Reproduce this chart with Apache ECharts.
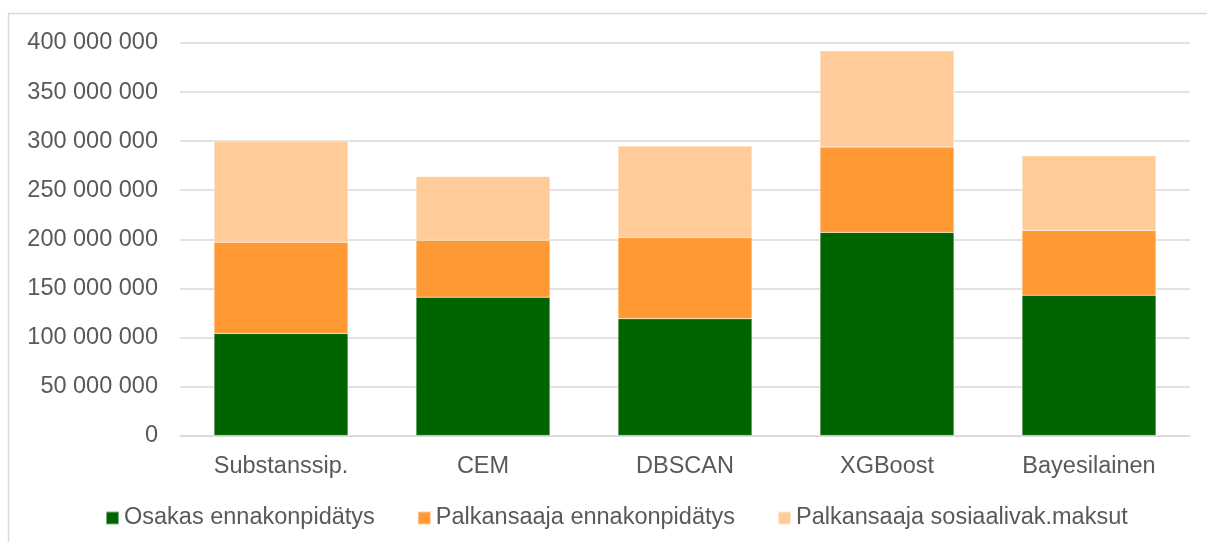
<!DOCTYPE html>
<html>
<head>
<meta charset="utf-8">
<script src="https://cdn.jsdelivr.net/npm/echarts@6/dist/echarts.min.js"></script>
<style>
  html, body { margin: 0; padding: 0; background: #fff; }
  #main { width: 1207px; height: 542px; }
</style>
</head>
<body>
<div id="main"></div>
<script>
// categories and stacked series (values in euros)
var categories = ['Substanssip.', 'CEM', 'DBSCAN', 'XGBoost', 'Bayesilainen'];
var osakasEnnakko = [104000000, 141000000, 119000000, 207000000, 143000000];
var palkansaajaEnnakko = [93000000, 58000000, 83000000, 87000000, 66000000];
var palkansaajaSosiaali = [103000000, 65000000, 93000000, 98000000, 76000000];

var seriesNames = ['Osakas ennakonpidätys', 'Palkansaaja ennakonpidätys', 'Palkansaaja sosiaalivak.maksut'];
var seriesColors = ['#006400', '#ff9933', '#ffcc99'];

var font = '"Liberation Sans", Arial, sans-serif';

// thousand separator with spaces, like 350 000 000
function fmt(v) {
    return String(v).replace(/\B(?=(\d{3})+(?!\d))/g, ' ');
}

var myChart = echarts.init(document.getElementById('main'));

var dataSets = [osakasEnnakko, palkansaajaEnnakko, palkansaajaSosiaali];
var series = [];
for (var i = 0; i < dataSets.length; i++) {
    series.push({
        name: seriesNames[i],
        type: 'bar',
        stack: 'total',
        barWidth: 134,
        itemStyle: { color: seriesColors[i], borderColor: 'rgba(255,255,255,0.5)', borderWidth: 0.5 },
        data: dataSets[i]
    });
}

myChart.setOption({
    animation: false,
    textStyle: { fontFamily: font },
    graphic: [{
        type: 'rect',
        shape: { x: 8.5, y: 13.5, width: 1300, height: 700 },
        style: { fill: 'none', stroke: '#d9d9d9', lineWidth: 1.5 },
        silent: true
    }],
    grid: { left: 180, right: 17, top: 43, bottom: 106.5 },
    legend: {
        data: seriesNames,
        bottom: 7,
        left: 100,
        icon: 'rect',
        itemWidth: 13,
        itemHeight: 13,
        itemGap: 42,
        textStyle: { color: '#595959', fontSize: 23.5, fontFamily: font }
    },
    xAxis: {
        type: 'category',
        data: categories,
        axisLine: { lineStyle: { color: '#d9d9d9', width: 1.5 } },
        axisTick: { show: false },
        axisLabel: { color: '#595959', fontSize: 23.5, margin: 19, fontFamily: font }
    },
    yAxis: {
        type: 'value',
        min: 0,
        max: 400000000,
        interval: 50000000,
        axisLine: { show: false },
        axisTick: { show: false },
        splitLine: { lineStyle: { color: '#d9d9d9', width: 1.5 } },
        axisLabel: {
            color: '#595959', fontSize: 23.5, margin: 22, fontFamily: font,
            formatter: fmt
        }
    },
    series: series
});
</script>
</body>
</html>
